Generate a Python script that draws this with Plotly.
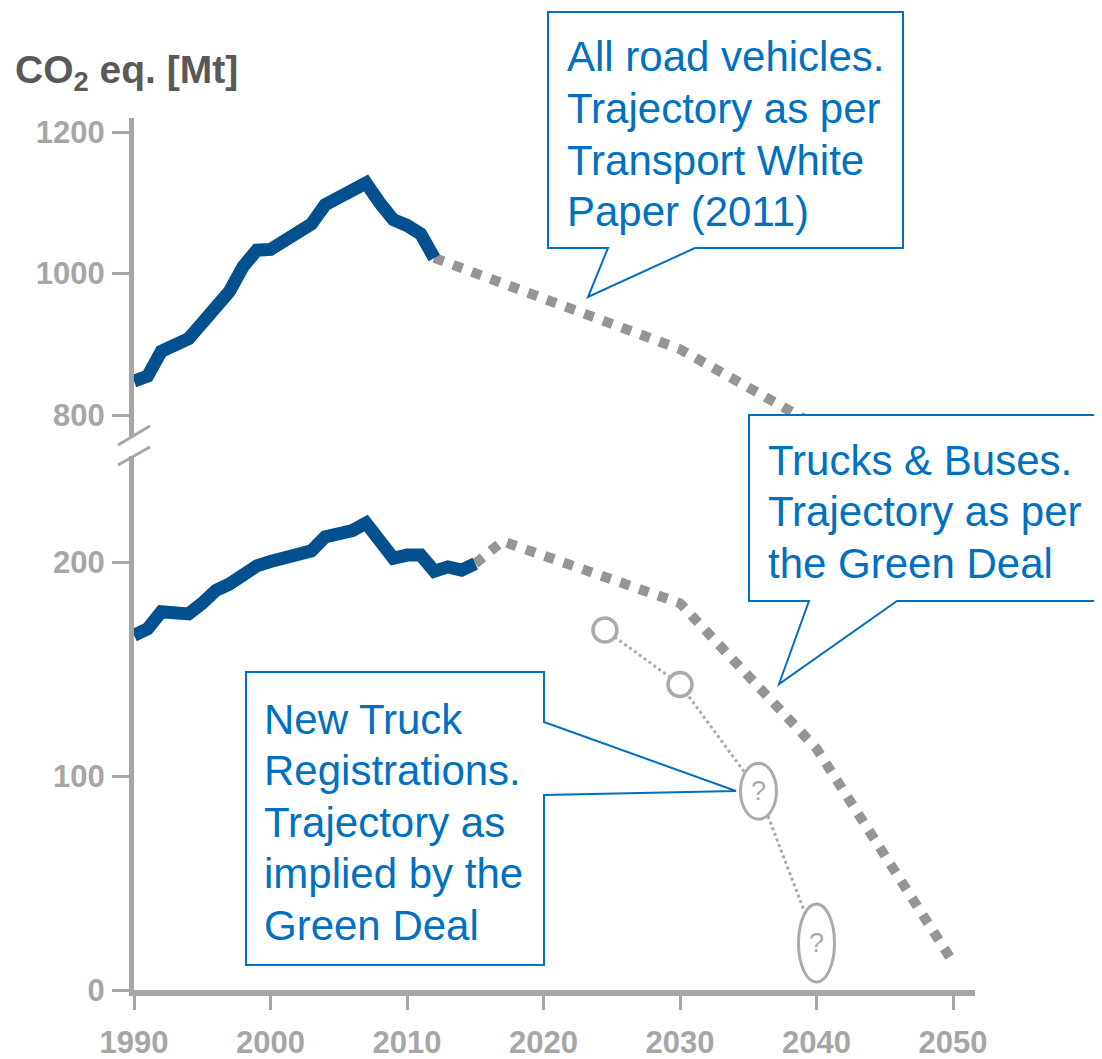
import plotly.graph_objects as go

# ---------------- data ----------------
years_all = list(range(1990, 2013))
co2_all_road = [848, 855, 890, 900, 908, 930, 955, 975, 1010, 1033, 1034, 1045,
                1057, 1070, 1097, 1108, 1119, 1128, 1100, 1076, 1068, 1056, 1022]

years_hdv = list(range(1990, 2016))
co2_trucks_buses = [166, 169, 177, 176.5, 176, 181, 187, 190, 194, 198.5, 200.5, 202,
                    203.5, 205.5, 212, 213.5, 215, 218.5, 210, 202, 203.5, 203.5, 196,
                    198, 196.5, 199.5]

wp_years = [2012, 2030, 2040, 2050]          # Transport White Paper trajectory
wp_values = [1022, 893, 785, 680]

gd_years = [2015, 2017, 2030, 2040, 2050]    # Green Deal trajectory, trucks & buses
gd_values = [199.5, 210, 181, 113, 13]

new_years = [2024.5, 2030, 2035.75, 2040]    # new truck registrations (implied)
new_values = [168.5, 143, 93, 22]

x_ticks = [1990, 2000, 2010, 2020, 2030, 2040, 2050]
y_low_ticks = [0, 100, 200]
y_high_ticks = [800, 1000, 1200]

callout_all_road = ['All road vehicles.', 'Trajectory as per', 'Transport White', 'Paper (2011)']
callout_trucks = ['Trucks & Buses.', 'Trajectory as per', 'the Green Deal']
callout_new = ['New Truck', 'Registrations.', 'Trajectory as', 'implied by the', 'Green Deal']

# ---------------- layout geometry (screen pixels) ----------------
W, H = 1102, 1059
OFF = 8                      # page body offset
L, R, T, B = 134, 975, 118, 990
PX_PER_YEAR = 13.65
LOW_PX_PER_UNIT = 2.137
HIGH_PX_PER_UNIT = 0.7075
low_top_px, high_bottom_px = 456, 436
LINE_STEP = 51.5


def px(x):
    return (x - L) / (R - L)


def py(y):
    return (B - y) / (B - T)


AX = '#A6A6A6'
BLUE_TXT = '#0070C0'
BLUE_LINE = '#02508E'
GRAY_DASH = '#959595'
GRAY_LIGHT = '#ABABAB'
FONT = 'Liberation Sans, Arial, sans-serif'

fig = go.Figure()

# trajectories (dashed)
fig.add_trace(go.Scatter(x=wp_years, y=wp_values, xaxis='x', yaxis='y2', mode='lines',
                         line=dict(color=GRAY_DASH, width=10, dash='dot'), hoverinfo='skip'))
fig.add_trace(go.Scatter(x=gd_years, y=gd_values, xaxis='x', yaxis='y', mode='lines',
                         line=dict(color=GRAY_DASH, width=10, dash='dot'), hoverinfo='skip'))
# historic
fig.add_trace(go.Scatter(x=years_all, y=co2_all_road, xaxis='x', yaxis='y2', mode='lines',
                         line=dict(color=BLUE_LINE, width=13)))
fig.add_trace(go.Scatter(x=years_hdv, y=co2_trucks_buses, xaxis='x', yaxis='y', mode='lines',
                         line=dict(color=BLUE_LINE, width=13)))
# new truck registrations
fig.add_trace(go.Scatter(x=new_years, y=new_values, xaxis='x', yaxis='y', mode='lines',
                         line=dict(color=GRAY_LIGHT, width=3, dash='dot'), hoverinfo='skip'))
fig.add_trace(go.Scatter(x=new_years[:2], y=new_values[:2], xaxis='x', yaxis='y', mode='markers',
                         marker=dict(size=24, color='white', line=dict(color=GRAY_LIGHT, width=3.5))))

shapes = []
annotations = []

# ellipses with question marks
for (xx, yy, hh) in [(new_years[2], new_values[2], 56), (new_years[3], new_values[3], 78)]:
    shapes.append(dict(type='circle', xref='x', yref='y', xsizemode='pixel', ysizemode='pixel',
                       xanchor=xx, yanchor=yy, x0=-18, x1=18, y0=-hh / 2, y1=hh / 2,
                       line=dict(color=GRAY_LIGHT, width=3), fillcolor='white', layer='above'))
    annotations.append(dict(x=xx, y=yy, xref='x', yref='y', text='?', showarrow=False,
                            font=dict(size=27, color=GRAY_LIGHT, family=FONT)))


def callout(points):
    path = 'M ' + ' L '.join(f'{px(a):.5f},{py(b):.5f}' for a, b in points) + ' Z'
    return dict(type='path', xref='paper', yref='paper', path=path,
                line=dict(color=BLUE_TXT, width=2), fillcolor='white', layer='above')


shapes.append(callout([(548, 12), (903, 12), (903, 248), (695, 248), (588, 297), (608, 248), (548, 248)]))
shapes.append(callout([(749, 415), (1100, 415), (1100, 601), (897, 601), (779, 684), (809, 601), (749, 601)]))
shapes.append(callout([(246, 672), (544, 672), (544, 722), (736, 791), (544, 795), (544, 965), (246, 965)]))

# axis break marks
for (x0, y0, x1, y1) in [(118, 445, 150, 426), (118, 465, 150, 447)]:
    shapes.append(dict(type='line', xref='paper', yref='paper', x0=px(x0), y0=py(y0),
                       x1=px(x1), y1=py(y1), line=dict(color=AX, width=3), layer='above'))

txt_font = dict(size=42, color=BLUE_TXT, family=FONT)
for lines, x_left, y_first in [(callout_all_road, 565, 57),
                               (callout_trucks, 766, 460),
                               (callout_new, 262, 719)]:
    for i, line in enumerate(lines):
        annotations.append(dict(xref='paper', yref='paper', x=px(x_left), y=py(y_first + i * LINE_STEP),
                                xanchor='left', yanchor='middle', align='left', showarrow=False,
                                font=txt_font, text=line))

annotations.append(dict(xref='paper', yref='paper', x=px(13), y=py(72), xanchor='left', yanchor='middle',
                        showarrow=False, text='CO<sub>2</sub> eq. [Mt]',
                        font=dict(size=39, color='#595959', family=FONT, weight='bold')))

tickfont = dict(size=31, color=AX, family=FONT, weight='bold')

fig.update_layout(
    width=W, height=H,
    margin=dict(l=L - OFF, r=W - (R - OFF), t=T - OFF, b=H - (B - OFF), autoexpand=False),
    paper_bgcolor='white', plot_bgcolor='white', showlegend=False,
    xaxis=dict(domain=[0, 1], range=[1990, 1990 + (R - L) / PX_PER_YEAR], anchor='y',
               showline=True, linecolor=AX, linewidth=6, ticks='outside', ticklen=14, tickwidth=3,
               tickcolor=AX, tickvals=x_ticks, tickfont=tickfont, showgrid=False, zeroline=False,
               ticklabelstandoff=6, automargin=False),
    yaxis=dict(domain=[0, (B - low_top_px) / (B - T)], range=[0, (B - low_top_px) / LOW_PX_PER_UNIT],
               anchor='x', showline=True, linecolor=AX, linewidth=5, ticks='outside', ticklen=17,
               tickwidth=3, tickcolor=AX, tickvals=y_low_ticks, tickfont=tickfont,
               showgrid=False, zeroline=False, ticklabelstandoff=1, automargin=False),
    yaxis2=dict(domain=[(B - high_bottom_px) / (B - T), 1],
                range=[800 - (high_bottom_px - 415) / HIGH_PX_PER_UNIT, 1200 + (132 - T) / HIGH_PX_PER_UNIT],
                anchor='x', showline=True, linecolor=AX, linewidth=5, ticks='outside', ticklen=17,
                tickwidth=3, tickcolor=AX, tickvals=y_high_ticks, tickfont=tickfont,
                showgrid=False, zeroline=False, ticklabelstandoff=1, automargin=False),
    shapes=shapes, annotations=annotations,
)

fig.write_html('out.html')
